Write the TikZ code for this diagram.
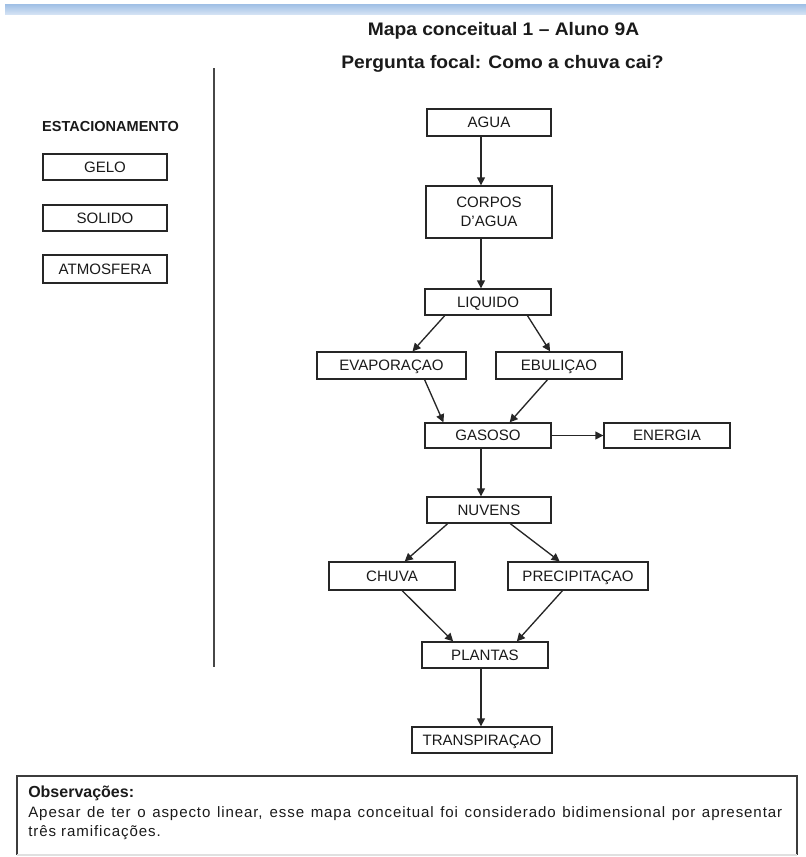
\documentclass[tikz,border=0pt]{standalone}
\usepackage{fontspec}
\setmainfont{Liberation Sans}
\usepackage{graphicx}
\usetikzlibrary{arrows.meta,calc}

\definecolor{ink}{HTML}{1A1A1A}
\definecolor{boxline}{HTML}{262626}
\definecolor{bandtop}{HTML}{9FBFE5}
\definecolor{bandbottom}{HTML}{D3E2F4}

\tikzset{
  box/.style={draw=boxline, line width=1pt, inner sep=0pt, text=ink,
    font=\fontsize{11.3}{14}\selectfont, align=center},
  caps/.style={text height=8.1pt, text depth=0pt},
  arr/.style={draw=boxline, line width=1pt, -{Triangle[length=6pt,width=6pt]}},
  txt/.style={inner sep=0pt, text=ink}
}

\begin{document}
\begin{tikzpicture}[x=0.75pt,y=-0.75pt]
\useasboundingbox (0,0) rectangle (806,857);

% header band
\shade[top color=bandtop, bottom color=bandbottom] (5,4) rectangle (806,14);

% titles
\node[txt, anchor=base] (title) at (503.5,35.7)
  {\scalebox{1.06}[1]{\bfseries\fontsize{13.6}{16}\selectfont Mapa conceitual 1 – Aluno 9A}};
\node[txt, anchor=base] (focal) at (502.5,68.3)
  {\scalebox{1.06}[1]{\bfseries\fontsize{13.6}{16}\selectfont Pergunta focal: Como a chuva cai?}};

% separator
\draw[draw=boxline!85, line width=1.2pt] (214,68) -- (214,667);

% left column
\node[txt, font=\bfseries\fontsize{10.9}{13}\selectfont] (est) at (110.5,126) {ESTACIONAMENTO};
\node[box, caps, minimum width=124*0.75pt, minimum height=26*0.75pt] (gelo) at (105,167) {GELO};
\node[box, caps, minimum width=124*0.75pt, minimum height=26*0.75pt] (solido) at (105,218) {SOLIDO};
\node[box, caps, minimum width=124*0.75pt, minimum height=28*0.75pt] (atmos) at (105,269) {ATMOSFERA};

% main chain
\node[box, caps, minimum width=124*0.75pt, minimum height=27*0.75pt] (agua) at (489,122.5) {AGUA};
\node[box, minimum width=126*0.75pt, minimum height=52*0.75pt] (corpos) at (489,212) {CORPOS\\D'AGUA};
\node[box, caps, minimum width=126*0.75pt, minimum height=26*0.75pt] (liq) at (488,302) {LIQUIDO};
\node[box, caps, minimum width=149*0.75pt, minimum height=27*0.75pt] (evap) at (391.5,365.5) {EVAPORAÇAO};
\node[box, caps, minimum width=126*0.75pt, minimum height=27*0.75pt] (ebul) at (559,365.5) {EBULIÇAO};
\node[box, caps, minimum width=126*0.75pt, minimum height=25*0.75pt] (gas) at (488,435.5) {GASOSO};
\node[box, caps, minimum width=126*0.75pt, minimum height=25*0.75pt] (ener) at (667,435.5) {ENERGIA};
\node[box, caps, minimum width=124*0.75pt, minimum height=26*0.75pt] (nuv) at (489,510) {NUVENS};
\node[box, caps, minimum width=126*0.75pt, minimum height=28*0.75pt] (chuva) at (392,576) {CHUVA};
\node[box, caps, minimum width=140*0.75pt, minimum height=28*0.75pt] (prec) at (578,576) {PRECIPITAÇAO};
\node[box, caps, minimum width=126*0.75pt, minimum height=26*0.75pt] (plan) at (485,655) {PLANTAS};
\node[box, caps, minimum width=140*0.75pt, minimum height=26*0.75pt] (trans) at (482,740) {TRANSPIRAÇAO};

% connectors
\coordinate (col) at (481,0);
\draw[arr] (agua.south -| col) -- (corpos.north -| col);
\draw[arr] (corpos.south -| col) -- (liq.north -| col);
\draw[arr] ($(liq.south west)!0.16!(liq.south east)$) -- ($(evap.north west)!0.64!(evap.north east)$);
\draw[arr] ($(liq.south west)!0.81!(liq.south east)$) -- ($(ebul.north west)!0.43!(ebul.north east)$);
\draw[arr] ($(evap.south west)!0.72!(evap.south east)$) -- ($(gas.north west)!0.15!(gas.north east)$);
\draw[arr] ($(ebul.south west)!0.41!(ebul.south east)$) -- ($(gas.north west)!0.67!(gas.north east)$);
\draw[arr] (gas.east) -- (ener.west);
\draw[arr] (gas.south -| col) -- (nuv.north -| col);
\draw[arr] ($(nuv.south west)!0.17!(nuv.south east)$) -- ($(chuva.north west)!0.60!(chuva.north east)$);
\draw[arr] ($(nuv.south west)!0.67!(nuv.south east)$) -- ($(prec.north west)!0.37!(prec.north east)$);
\draw[arr] ($(chuva.south west)!0.58!(chuva.south east)$) -- ($(plan.north west)!0.25!(plan.north east)$);
\draw[arr] ($(prec.south west)!0.39!(prec.south east)$) -- ($(plan.north west)!0.75!(plan.north east)$);
\draw[arr] (plan.south -| col) -- (trans.north -| col);

% notes frame
\draw[draw=boxline!90, line width=1pt] (17,855) -- (17,776) -- (797,776) -- (797,855);
\draw[draw=black!12, line width=0.8pt] (17,855) -- (797,855);

\node[txt, anchor=base west, font=\bfseries\fontsize{12}{14}\selectfont] (obs) at (28,797) {Observações:};
\node[txt, anchor=base west, font=\fontsize{11.3}{14}\selectfont\addfontfeature{LetterSpace=6}] (obs1) at (28,817)
  {\hbox to 565.5pt{Apesar de ter o aspecto linear, esse mapa conceitual foi considerado bidimensional por apresentar}};
\node[txt, anchor=base west, font=\fontsize{11.3}{14}\selectfont\addfontfeature{LetterSpace=6}] (obs2) at (28,836) {três ramificações.};
\end{tikzpicture}
\end{document}
